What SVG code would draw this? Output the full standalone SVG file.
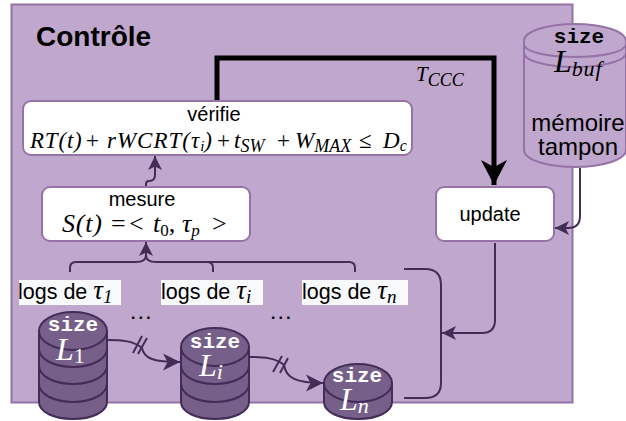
<svg xmlns="http://www.w3.org/2000/svg" width="626" height="421" viewBox="0 0 626 421">
<style>
.s{font-family:"Liberation Sans",Arial,sans-serif;fill:#000}
.m{font-family:"Liberation Serif","Times New Roman",serif;font-style:italic;fill:#000}
.c{font-family:"Liberation Mono","Courier New",monospace;font-weight:bold}
.w{fill:#fff}
.box{fill:#fff;stroke:#9673a6;stroke-width:2}
.l{fill:none;stroke:#432d57;stroke-width:2}
.db{fill:#76608a;stroke:#432d57;stroke-width:2}
.dbl{fill:none;stroke:#432d57;stroke-width:2}
.lg{fill:#f8f9fa}
</style>
<defs>
<marker id="a" markerUnits="userSpaceOnUse" markerWidth="16" markerHeight="16" refX="14" refY="8" orient="auto"><path d="M0 1L14 8L0 15L3.500 8Z" fill="#432d57"/></marker>
<marker id="d" markerUnits="userSpaceOnUse" markerWidth="18" markerHeight="20" refX="17" refY="9" orient="auto"><path d="M0 0.500L17 9L0 17.500L4.500 9Z" fill="#432d57"/></marker>
<marker id="b" markerUnits="userSpaceOnUse" markerWidth="30" markerHeight="30" refX="25" refY="13" orient="auto"><path d="M0 0L25 13L0 26L7 13Z" fill="#000"/></marker>
</defs>
<rect x="11.500" y="4.500" width="561" height="398" fill="#c0a7cd" stroke="#9673a6" stroke-width="2"/>
<text x="36" y="46" class="s" font-size="28" font-weight="bold">Contrôle</text>
<g id="connectors">
<path d="M217 100V58H494V185" fill="none" stroke="#000" stroke-width="5" marker-end="url(#b)"/>
<path class="l" d="M146 186V184Q146 181 149 181Q155 181 155 175V156" marker-end="url(#a)"/>
<path class="l" d="M70 272V268Q70 262 76 262H136Q146 262 146 255V242" marker-end="url(#a)"/>
<path class="l" d="M213 272V268Q213 262 207 262H156Q146 262 146 255"/>
<path class="l" d="M355 272V268Q355 262 349 262H207"/>
<path class="l" d="M404 269H425Q441 269 441 285V383Q441 398 425 398H404"/>
<path class="l" d="M495 243V320Q495 333 482 333H442" marker-end="url(#a)"/>
<path class="l" stroke-width="1.500" d="M580 168V216Q580 228 568 228H555" marker-end="url(#a)"/>
<path class="l" d="M107 340C122 340 134 341 142 348C144 358 152 362 180 362" marker-end="url(#d)"/>
<path class="l" d="M133 353L142 336M138 354L147 338"/>
<path class="l" d="M249 357C264 357 276 358 284 365C286 378 296 383 323 383" marker-end="url(#d)"/>
<path class="l" d="M273 372L282 356M280 373L288 358"/>
</g>
<g id="verifie">
<rect class="box" x="23" y="101" width="389" height="54" rx="8"/>
<text x="214" y="121" class="s" font-size="20" text-anchor="middle">vérifie</text>
<text y="148" class="m" font-size="23"><tspan x="30" letter-spacing="0.800">RT(t)</tspan><tspan x="86" font-style="normal">+</tspan><tspan x="107" letter-spacing="1">rWCRT(τ</tspan><tspan font-size="15" dy="3">i</tspan><tspan dy="-3">)</tspan><tspan x="217" font-style="normal">+</tspan><tspan x="234">t</tspan><tspan font-size="18" dy="4">SW</tspan><tspan x="277" dy="-4" font-style="normal">+</tspan><tspan x="295">W</tspan><tspan font-size="18" dy="4">MAX</tspan><tspan x="359" dy="-4" font-style="normal">≤</tspan><tspan x="383">D</tspan><tspan font-size="16" dy="3">c</tspan></text>
</g>
<g id="mesure">
<rect class="box" x="42" y="187" width="208" height="54" rx="8"/>
<text x="142" y="206" class="s" font-size="20" text-anchor="middle">mesure</text>
<text y="232" class="m" font-size="26"><tspan x="62" letter-spacing="0.800">S(t)</tspan><tspan x="111" font-style="normal">=</tspan><tspan x="129" font-style="normal">&lt;</tspan><tspan x="153">t</tspan><tspan font-size="17" font-style="normal" dy="4">0</tspan><tspan dy="-4" font-style="normal">,</tspan><tspan x="182">τ</tspan><tspan font-size="17" dy="4">p</tspan><tspan x="212" dy="-4" font-style="normal">&gt;</tspan></text>
</g>
<g id="update">
<rect class="box" x="436" y="187" width="118" height="54" rx="8"/>
<text x="490" y="221" class="s" font-size="20" text-anchor="middle">update</text>
</g>
<g id="memoire">
<path d="M524 41V150C524 160 548 167 575 167S626 160 626 150V41C626 31 602 24 575 24S524 31 524 41Z" fill="#c0a7cd" stroke="#9673a6" stroke-width="2"/>
<path d="M524 44C524 52 548 57 575 57S626 52 626 44M524 53C524 61 548 67 575 67S626 61 626 53" fill="none" stroke="#9673a6" stroke-width="2"/>
<text x="579" y="43" class="c" font-size="21" text-anchor="middle" fill="#000">size</text>
<text x="554" y="72" class="m" font-size="32">L<tspan font-size="22" dy="4" letter-spacing="0.800">buf</tspan></text>
<text x="578" y="131" class="s" font-size="24" text-anchor="middle">mémoire</text>
<text x="578" y="155" class="s" font-size="24" text-anchor="middle">tampon</text>
</g>
<g id="logs1"><rect class="lg" x="19" y="280" width="102" height="25"/><text x="18" y="299" class="s" font-size="21.500">logs de <tspan class="m" font-size="27">τ</tspan><tspan class="m" font-style="normal" font-size="19" dy="4">1</tspan></text></g>
<g id="logsi"><rect class="lg" x="161" y="280" width="102" height="25"/><text x="161" y="299" class="s" font-size="21.500">logs de <tspan class="m" font-size="27">τ</tspan><tspan class="m" font-size="19" dy="4">i</tspan></text></g>
<g id="logsn"><rect class="lg" x="302" y="280" width="106" height="25"/><text x="302" y="299" class="s" font-size="21.500">logs de <tspan class="m" font-size="27">τ</tspan><tspan class="m" font-size="19" dy="4">n</tspan></text></g>
<text x="143" y="319" class="s" font-size="24" text-anchor="middle" letter-spacing="4.500">…</text>
<text x="283" y="319" class="s" font-size="24" text-anchor="middle" letter-spacing="4.500">…</text>
<g id="db1">
<path class="db" d="M39 331V402C39 412 54 419 73 419S107 412 107 402V331Z"/>
<ellipse class="db" cx="73" cy="331" rx="34" ry="19"/>
<path class="dbl" d="M39 349C39 359 54 367 73 367S107 359 107 349M39 366C39 376 54 384 73 384S107 376 107 366M39 384C39 394 54 402 73 402S107 394 107 384"/>
<text x="73" y="331" class="c w" font-size="21" text-anchor="middle">size</text>
<text x="56" y="360" class="m w" font-size="32">L<tspan font-size="22" font-style="normal" dy="3">1</tspan></text>
</g>
<g id="dbi">
<path class="db" d="M181 347V402C181 412 196 419 215 419S249 412 249 402V347Z"/>
<ellipse class="db" cx="215" cy="347" rx="34" ry="19"/>
<path class="dbl" d="M181 366C181 376 196 384 215 384S249 376 249 366M181 384C181 394 196 402 215 402S249 394 249 384"/>
<text x="215" y="348" class="c w" font-size="21" text-anchor="middle">size</text>
<text x="199" y="376" class="m w" font-size="32">L<tspan font-size="22" dy="3">i</tspan></text>
</g>
<g id="dbn">
<path class="db" d="M324 383V402C324 412 339 419 358 419S392 412 392 402V383Z"/>
<ellipse class="db" cx="358" cy="383" rx="34" ry="19"/>
<text x="357" y="382" class="c w" font-size="21" text-anchor="middle">size</text>
<text x="340" y="410" class="m w" font-size="32">L<tspan font-size="22" dy="3">n</tspan></text>
</g>
<text x="416" y="81" class="m" font-size="21">T<tspan font-size="18" dy="5">CCC</tspan></text>
</svg>
